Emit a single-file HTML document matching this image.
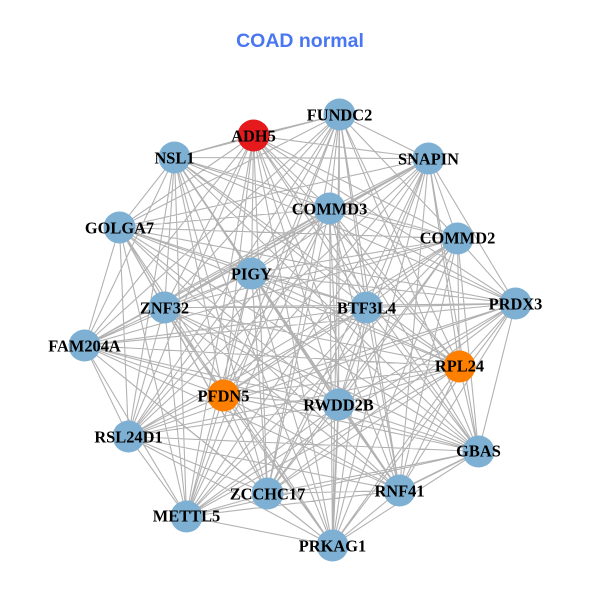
<!DOCTYPE html>
<html><head><meta charset="utf-8"><style>
html,body{margin:0;padding:0;background:#fff}
svg{display:block}
.n text{font:bold 16.4px "Liberation Serif",serif;fill:#000;text-anchor:middle}
</style></head><body>
<svg width="600" height="600" viewBox="0 0 600 600" xmlns="http://www.w3.org/2000/svg">
<rect width="600" height="600" fill="#fff"/>
<text x="300" y="47" text-anchor="middle" style="font:bold 19.5px 'Liberation Sans',sans-serif" fill="#4a76f2">COAD normal</text>
<g transform="translate(.5 .5)">
<path fill="none" stroke="#b2b2b2" stroke-width="1.1" d="
M339 114L253 135M339 114L174 157M339 114L428 158M339 114L329 208M339 114L119 227M339 114L457 238M339 114L251 273M339 114L164 307M339 114L366 307M339 114L84 345M339 114L459 366M339 114L223 395M339 114L338 404M339 114L128 436M339 114L478 451M339 114L399 490M339 114L267 493M339 114L186 516M339 114L332 545
M253 135L174 157M253 135L428 158M253 135L329 208M253 135L119 227M253 135L457 238M253 135L251 273M253 135L515 303M253 135L164 307M253 135L366 307M253 135L84 345M253 135L459 366M253 135L223 395M253 135L338 404M253 135L128 436M253 135L478 451M253 135L399 490M253 135L267 493M253 135L186 516M253 135L332 545
M174 157L428 158M174 157L329 208M174 157L119 227M174 157L457 238M174 157L251 273M174 157L515 303M174 157L164 307M174 157L366 307M174 157L84 345M174 157L459 366M174 157L223 395M174 157L338 404M174 157L128 436M174 157L478 451M174 157L399 490M174 157L267 493M174 157L186 516M174 157L332 545
M428 158L329 208M428 158L119 227M428 158L457 238M428 158L251 273M428 158L515 303M428 158L164 307M428 158L366 307M428 158L84 345M428 158L459 366M428 158L223 395M428 158L338 404M428 158L128 436M428 158L478 451M428 158L399 490M428 158L267 493M428 158L186 516M428 158L332 545
M329 208L119 227M329 208L457 238M329 208L251 273M329 208L515 303M329 208L164 307M329 208L366 307M329 208L84 345M329 208L459 366M329 208L223 395M329 208L338 404M329 208L128 436M329 208L478 451M329 208L399 490M329 208L267 493M329 208L186 516M329 208L332 545
M119 227L457 238M119 227L251 273M119 227L515 303M119 227L164 307M119 227L366 307M119 227L84 345M119 227L459 366M119 227L223 395M119 227L338 404M119 227L128 436M119 227L478 451M119 227L399 490M119 227L267 493M119 227L186 516M119 227L332 545
M457 238L251 273M457 238L515 303M457 238L164 307M457 238L366 307M457 238L84 345M457 238L459 366M457 238L223 395M457 238L338 404M457 238L128 436M457 238L478 451M457 238L399 490M457 238L267 493M457 238L186 516M457 238L332 545
M251 273L515 303M251 273L164 307M251 273L366 307M251 273L84 345M251 273L459 366M251 273L223 395M251 273L338 404M251 273L128 436M251 273L478 451M251 273L399 490M251 273L267 493M251 273L186 516M251 273L332 545
M515 303L164 307M515 303L366 307M515 303L84 345M515 303L459 366M515 303L223 395M515 303L338 404M515 303L128 436M515 303L478 451M515 303L399 490M515 303L267 493M515 303L186 516M515 303L332 545
M164 307L366 307M164 307L84 345M164 307L459 366M164 307L223 395M164 307L338 404M164 307L128 436M164 307L478 451M164 307L399 490M164 307L267 493M164 307L186 516M164 307L332 545
M366 307L84 345M366 307L459 366M366 307L223 395M366 307L338 404M366 307L128 436M366 307L478 451M366 307L399 490M366 307L267 493M366 307L186 516M366 307L332 545
M84 345L459 366M84 345L223 395M84 345L338 404M84 345L128 436M84 345L478 451M84 345L399 490M84 345L267 493M84 345L186 516M84 345L332 545
M459 366L223 395M459 366L338 404M459 366L128 436M459 366L478 451M459 366L399 490M459 366L267 493M459 366L186 516M459 366L332 545
M223 395L338 404M223 395L128 436M223 395L478 451M223 395L399 490M223 395L267 493M223 395L186 516M223 395L332 545
M338 404L128 436M338 404L478 451M338 404L399 490M338 404L267 493M338 404L186 516M338 404L332 545
M128 436L478 451M128 436L399 490M128 436L267 493M128 436L186 516M128 436L332 545
M478 451L399 490M478 451L267 493M478 451L186 516M478 451L332 545
M399 490L267 493M399 490L186 516M399 490L332 545
M267 493L186 516M267 493L332 545
M186 516L332 545"/>
<path fill="none" stroke="#b2b2b2" stroke-width="1.7" d="M174 157L338 404M338 404L399 490M428 158L164 307M338 404L332 545M478 451L399 490"/>
<g fill="#7eb0d3">
<circle cx="339" cy="114" r="16"/><circle cx="174" cy="157" r="16"/><circle cx="428" cy="158" r="16"/><circle cx="329" cy="208" r="16"/><circle cx="119" cy="227" r="16"/><circle cx="457" cy="238" r="16"/><circle cx="251" cy="273" r="16"/><circle cx="515" cy="303" r="16"/><circle cx="164" cy="307" r="16"/><circle cx="366" cy="307" r="16"/><circle cx="84" cy="345" r="16"/><circle cx="338" cy="404" r="16"/><circle cx="128" cy="436" r="16"/><circle cx="478" cy="451" r="16"/><circle cx="399" cy="490" r="16"/><circle cx="267" cy="493" r="16"/><circle cx="186" cy="516" r="16"/><circle cx="332" cy="545" r="16"/>
</g>
<circle cx="253" cy="135" r="16" fill="#e41a1c"/>
<circle cx="459" cy="366" r="16" fill="#ff7f00"/>
<circle cx="223" cy="395" r="16" fill="#ff7f00"/>
<g class="n">
<text x="339" y="120">FUNDC2</text><text x="253" y="141">ADH5</text><text x="174" y="163">NSL1</text><text x="428" y="164">SNAPIN</text><text x="329" y="214">COMMD3</text><text x="119" y="233">GOLGA7</text><text x="457" y="243">COMMD2</text><text x="251" y="279">PIGY</text><text x="515" y="309">PRDX3</text><text x="164" y="313">ZNF32</text><text x="366" y="313">BTF3L4</text><text x="84" y="351">FAM204A</text><text x="459" y="371">RPL24</text><text x="223" y="401">PFDN5</text><text x="338" y="410">RWDD2B</text><text x="128" y="442">RSL24D1</text><text x="478" y="456">GBAS</text><text x="399" y="496">RNF41</text><text x="267" y="499">ZCCHC17</text><text x="186" y="521">METTL5</text><text x="332" y="551">PRKAG1</text>
</g>
</g>
</svg>
</body></html>
